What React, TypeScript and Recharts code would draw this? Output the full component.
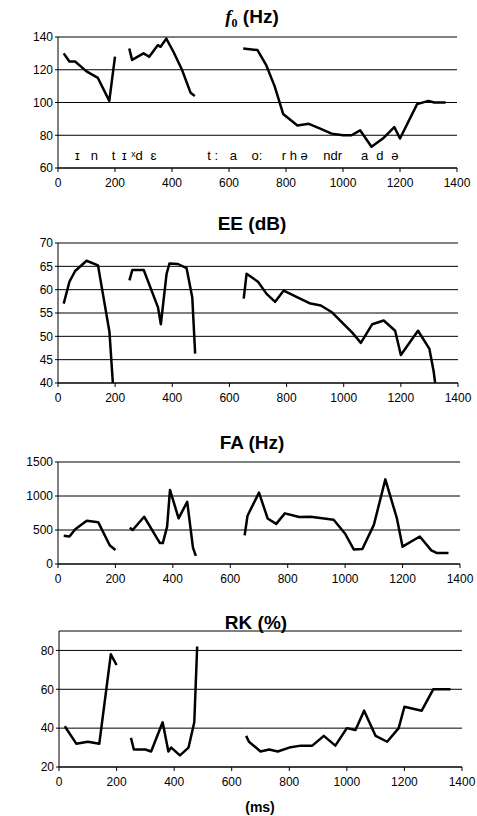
import { LineChart, Line, XAxis, YAxis, CartesianGrid, ReferenceDot } from "recharts";

const msTicks = [0, 200, 400, 600, 800, 1000, 1200, 1400];

// f0 (Hz) - null marks a gap between voiced stretches
const f0Ms = [20, 40, 60, 100, 140, 180, 200, 225, 250, 260, 300, 320, 350, 360, 380, 405, 435, 465, 480, 565, 650, 700, 730, 760, 790, 840, 880, 920, 960, 1000, 1030, 1060, 1100, 1140, 1180, 1200, 1260, 1300, 1320, 1360];
const f0Hz = [130, 125, 125, 119, 115, 101, 128, null, 133, 126, 130, 128, 135, 134, 139, 131, 120, 106, 104, null, 133, 132, 123, 110, 93, 86, 87, 84, 81, 80, 80, 83, 73, 78, 85, 78, 99, 101, 100, 100];
const f0Ticks = [60, 80, 100, 120, 140];

// phonetic transcription under the f0 curve
const phonMs = [68, 128, 195, 233, 277, 335, 543, 615, 698, 831, 964, 1076, 1129, 1182];
const phonText = ["ɪ", "n", "t", "ɪ", "ˣd", "ɛ", "t :", "a", "o:", "r h ə", "ndr", "a", "d", "ə"];

// EE (dB)
const eeMs = [20, 40, 60, 100, 140, 180, 192, 220, 250, 260, 300, 350, 360, 380, 390, 420, 450, 470, 480, 565, 650, 660, 700, 730, 760, 790, 840, 880, 920, 960, 1000, 1030, 1060, 1100, 1140, 1180, 1200, 1260, 1300, 1315, 1320];
const eeDb = [57, 61.7, 64, 66.2, 65.2, 51, 40, null, 62, 64.2, 64.2, 56.2, 52.6, 63.4, 65.6, 65.5, 64.6, 58.3, 46.3, null, 58.1, 63.4, 61.7, 59.1, 57.4, 59.8, 58.3, 57.1, 56.6, 55.1, 52.6, 50.8, 48.6, 52.6, 53.4, 51.2, 46, 51.2, 47.3, 42.4, 40];
const eeTicks = [40, 45, 50, 55, 60, 65, 70];

// FA (Hz)
const faMs = [20, 40, 60, 100, 140, 180, 200, 225, 250, 260, 300, 355, 365, 380, 390, 420, 450, 470, 480, 565, 650, 660, 700, 730, 760, 790, 840, 880, 960, 1000, 1030, 1060, 1100, 1140, 1180, 1200, 1260, 1300, 1320, 1360];
const faHz = [415, 405, 510, 635, 615, 275, 205, null, 535, 500, 695, 307, 307, 550, 1090, 672, 915, 240, 120, null, 420, 710, 1050, 670, 590, 745, 690, 695, 650, 445, 215, 220, 575, 1245, 675, 255, 405, 200, 160, 160];
const faTicks = [0, 500, 1000, 1500];

// RK (%)
const rkMs = [20, 60, 100, 140, 180, 200, 225, 250, 260, 300, 320, 360, 380, 390, 420, 450, 470, 480, 565, 650, 660, 700, 730, 760, 800, 840, 880, 920, 960, 1000, 1030, 1060, 1100, 1140, 1180, 1200, 1260, 1300, 1360];
const rkPct = [41, 32, 33, 32, 78, 72.5, null, 35, 29, 29, 28, 43, 28, 30, 26, 30, 43, 82, null, 36, 33, 28, 29, 28, 30, 31, 31, 36, 31, 40, 39, 49, 36, 33, 40, 51, 49, 60, 60];
const rkTicks = [20, 40, 60, 80];

const rows = (ms: number[], vals: (number | null)[]) => ms.map((t, i) => ({ t, v: vals[i] }));

const font = '"Liberation Sans", Arial, sans-serif';
const tickStyle = { fontSize: 12, fill: "#000" };

const Panel = ({ data, ticks, domain, plotTop, plotBottom, left, right, children }: any) => {
  const height = plotBottom - plotTop + 40;
  return (
    <div style={{ position: "absolute", left: 0, top: plotTop - 10 }}>
      <LineChart width={477} height={height} data={data} margin={{ top: 10, right: 477 - right, bottom: 10, left: 0 }}>
        <CartesianGrid vertical={false} stroke="#000" strokeWidth={1} />
        <XAxis
          dataKey="t"
          type="number"
          domain={[0, 1400]}
          ticks={msTicks}
          height={20}
          tick={tickStyle}
          tickSize={4}
          tickMargin={6}
          stroke="#000"
        />
        <YAxis
          type="number"
          domain={domain}
          ticks={ticks}
          width={left}
          tick={tickStyle}
          tickSize={3}
          tickMargin={2}
          stroke="#000"
          interval={0}
        />
        <Line
          dataKey="v"
          type="linear"
          stroke="#000"
          strokeWidth={2.5}
          strokeLinejoin="round"
          dot={false}
          isAnimationActive={false}
        />
        {children}
      </LineChart>
    </div>
  );
};

const Title = ({ top, center, children, size = 19 }: any) => (
  <div
    style={{
      position: "absolute",
      left: center - 100,
      width: 200,
      top: top - size * 0.6,
      textAlign: "center",
      fontWeight: "bold",
      fontSize: size,
      lineHeight: `${size * 1.2}px`,
      fontFamily: font,
    }}
  >
    {children}
  </div>
);

export default function App() {
  return (
    <div style={{ position: "absolute", left: 0, top: 0, width: 477, height: 816, background: "#fff", fontFamily: font }}>
      <Title top={17} center={252}>
        <span style={{ fontFamily: '"Liberation Serif", serif', fontStyle: "italic" }}>f</span>
        <span style={{ fontSize: 12, position: "relative", top: 4, fontFamily: '"Liberation Serif", serif' }}>0</span> (Hz)
      </Title>
      <Panel data={rows(f0Ms, f0Hz)} ticks={f0Ticks} domain={[60, 140]} plotTop={37} plotBottom={168} left={58} right={457}>
        {phonMs.map((m, i) => (
          <ReferenceDot
            key={i}
            x={m}
            y={68}
            r={0}
            fill="none"
            stroke="none"
            label={{ value: phonText[i], position: "center", fontSize: 13, fill: "#000" }}
          />
        ))}
      </Panel>

      <Title top={224} center={252}>EE (dB)</Title>
      <Panel data={rows(eeMs, eeDb)} ticks={eeTicks} domain={[40, 70]} plotTop={243} plotBottom={383} left={58} right={458} />

      <Title top={443} center={252}>FA (Hz)</Title>
      <Panel data={rows(faMs, faHz)} ticks={faTicks} domain={[0, 1500]} plotTop={462} plotBottom={564} left={58} right={460} />

      <Title top={623} center={256}>RK (%)</Title>
      <Panel data={rows(rkMs, rkPct)} ticks={rkTicks} domain={[20, 90]} plotTop={631} plotBottom={767} left={59} right={462} />

      <Title top={807} center={260} size={14}>(ms)</Title>
    </div>
  );
}
